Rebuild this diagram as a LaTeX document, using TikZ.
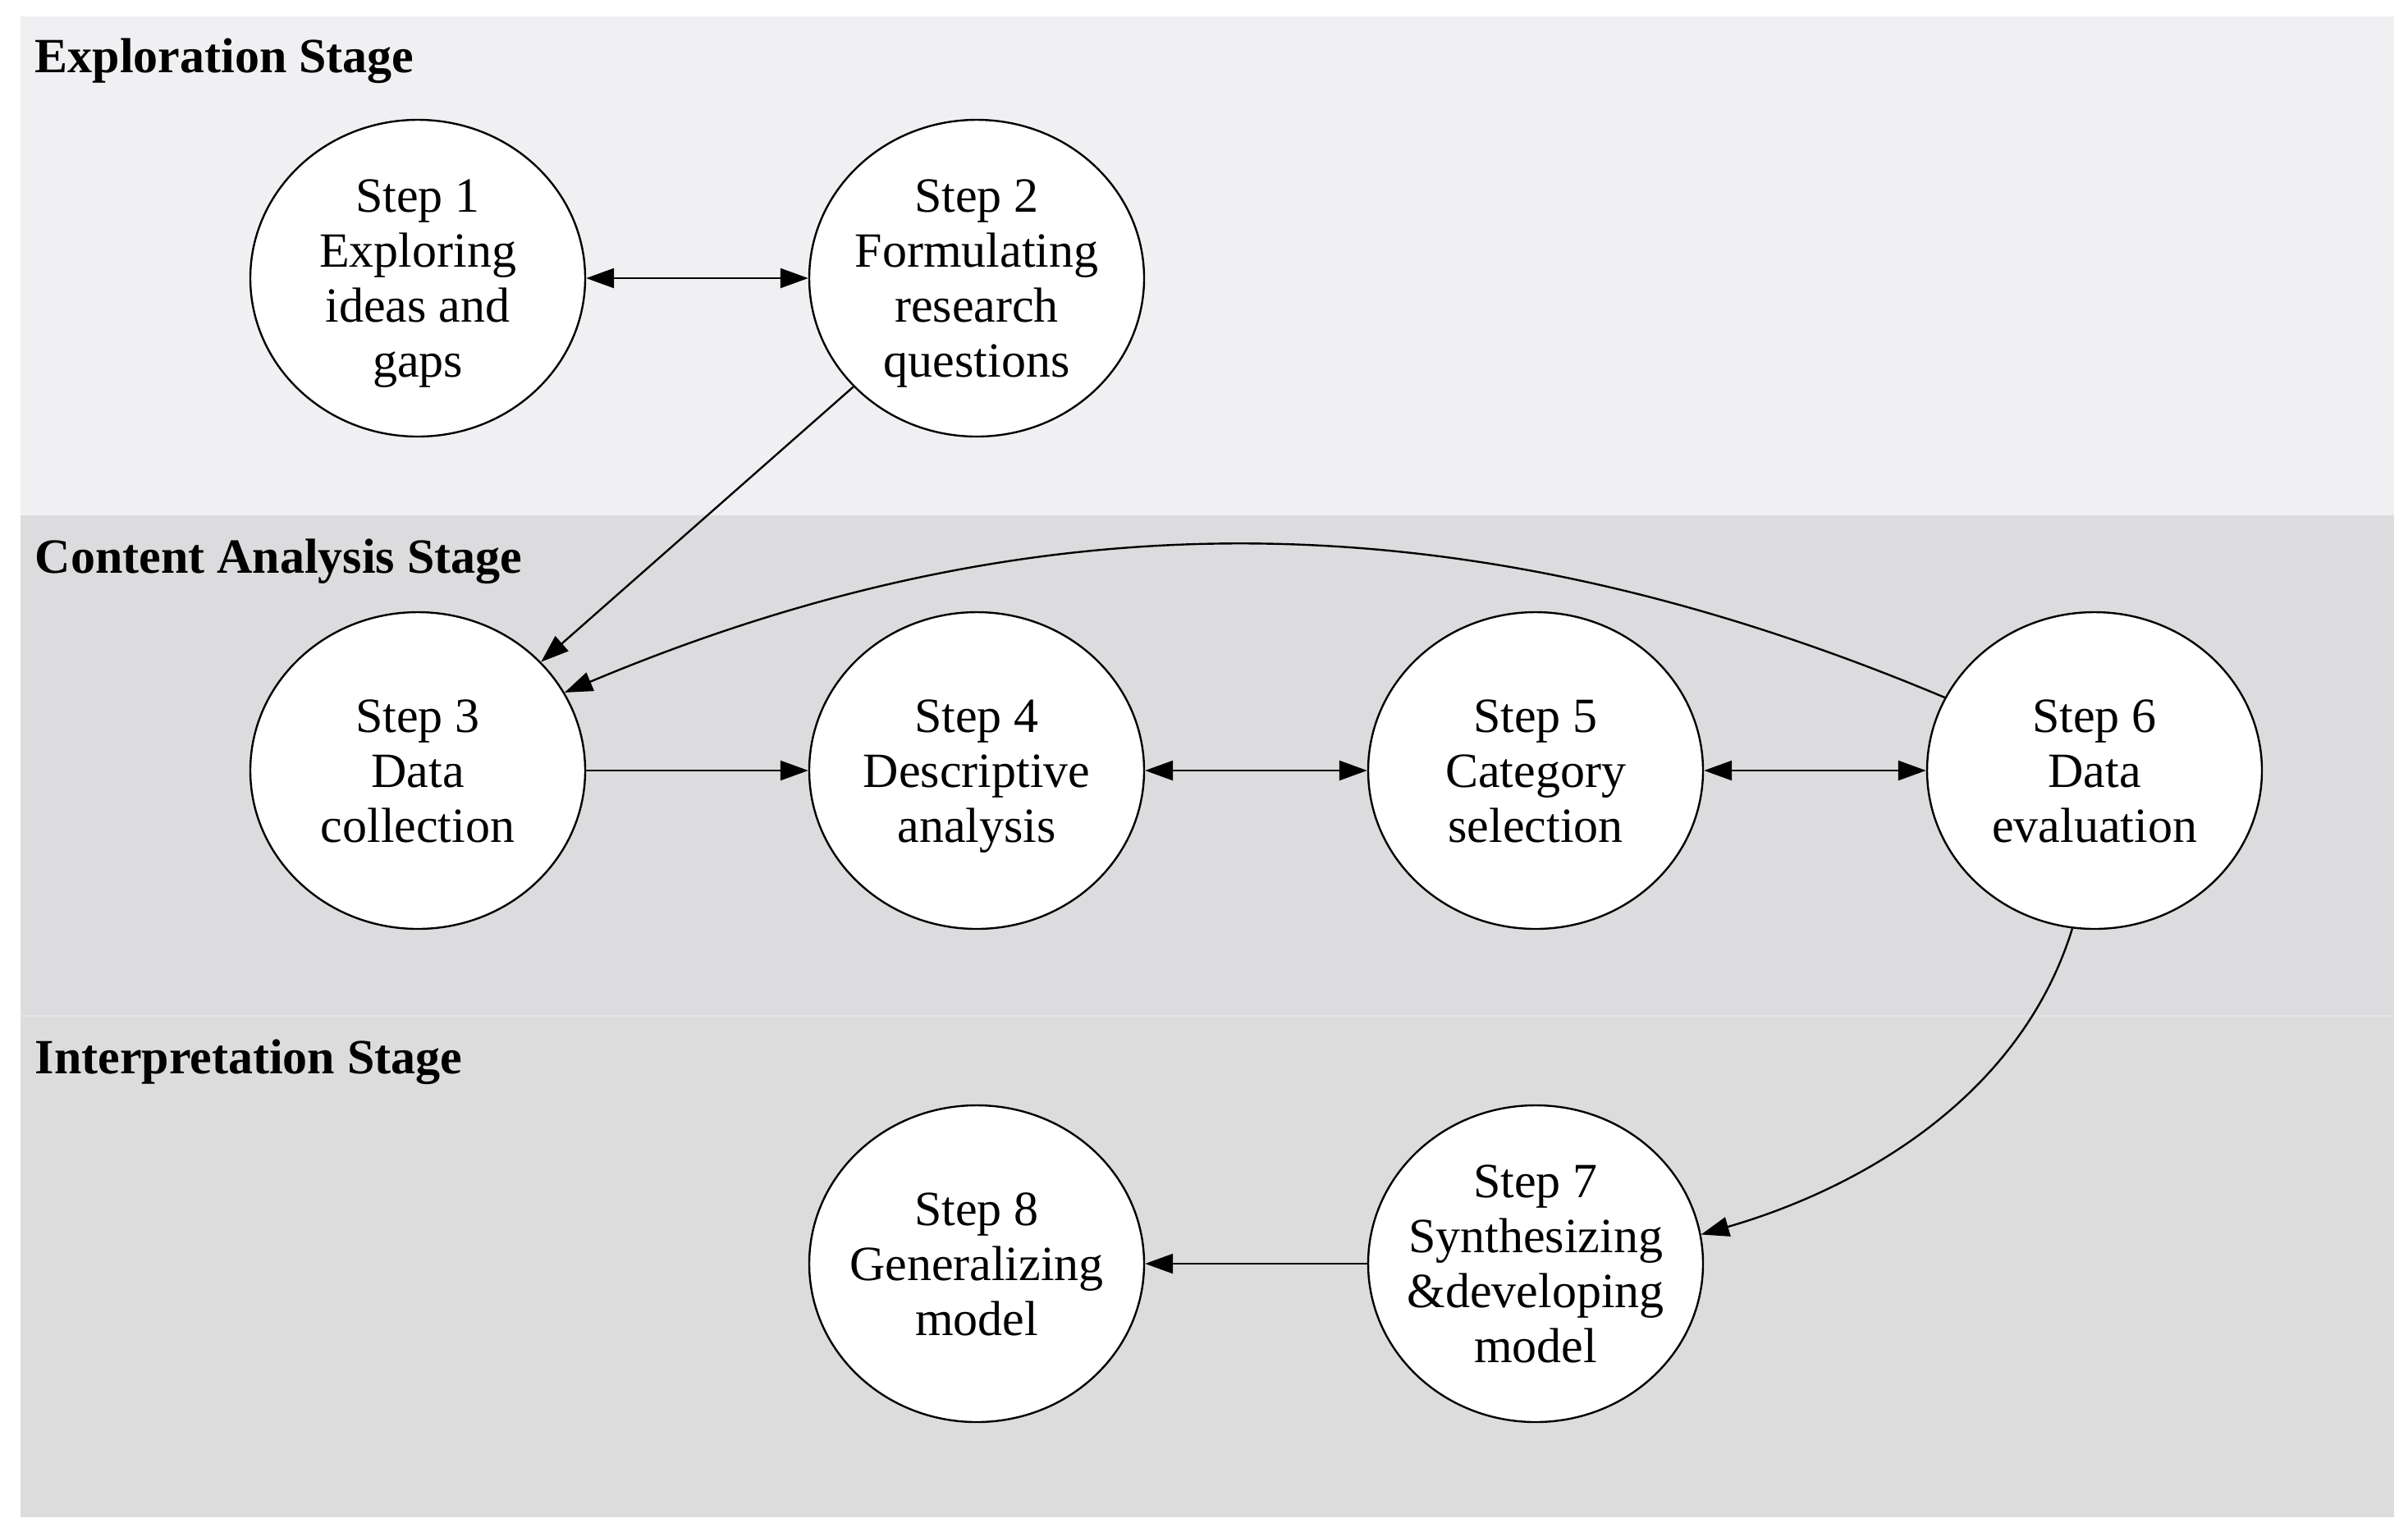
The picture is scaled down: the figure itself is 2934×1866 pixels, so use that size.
\documentclass[tikz,border=0pt]{standalone}
\usepackage{fontspec}
\setmainfont{Liberation Serif}
\usetikzlibrary{arrows.meta,shapes.geometric}
\definecolor{explfill}{RGB}{240,239,242}
\definecolor{contfill}{RGB}{220,220,222}
\definecolor{intpfill}{RGB}{220,220,220}
\definecolor{sepline}{RGB}{228,228,230}
\newcommand{\lnstrut}{\rule[-3.3pt]{0pt}{16.6pt}}
\begin{document}
\begin{tikzpicture}[x=0.25pt,y=-0.25pt,
  stepnode/.style={ellipse, draw=black, fill=white, line width=0.6pt,
    minimum width=102pt, minimum height=96.5pt, inner sep=0pt},
  steptext/.style={inner sep=0pt, align=center,
    font=\fontsize{15}{16.75}\selectfont},
  stagetitle/.style={anchor=base west, inner sep=0pt,
    font=\bfseries\fontsize{15}{18}\selectfont},
  tipstyle/.style={},
  conn/.style={line width=0.6pt, -{Triangle[length=8.5pt,width=6pt]}},
  bothconn/.style={line width=0.6pt, {Triangle[length=8.5pt,width=6pt]}-{Triangle[length=8.5pt,width=6pt]}}
]
\useasboundingbox (0,0) rectangle (2934,1866);
\fill[white] (0,0) rectangle (2934,1866);
% stage panels
\fill[explfill] (24.5,20) rectangle (2917,628);
\fill[contfill] (24.5,628) rectangle (2917,1238);
\fill[intpfill] (24.5,1238) rectangle (2917,1849);
\draw[sepline, line width=0.5pt] (24.5,1238) -- (2917,1238);
% titles
\node[stagetitle] (t1) at (42,88) {Exploration Stage};
\node[stagetitle] (t2) at (42,698) {Content Analysis Stage};
\node[stagetitle] (t3) at (42,1308) {Interpretation Stage};
% nodes
\node[stepnode] (s1) at (509,339) {};
\node[stepnode] (s2) at (1190,339) {};
\node[stepnode] (s3) at (509,939) {};
\node[stepnode] (s4) at (1190,939) {};
\node[stepnode] (s5) at (1871,939) {};
\node[stepnode] (s6) at (2552,939) {};
\node[stepnode] (s7) at (1871,1540) {};
\node[stepnode] (s8) at (1190,1540) {};
\node[steptext] (s1t) at (s1) {\lnstrut Step 1\\\lnstrut Exploring\\\lnstrut ideas and\\\lnstrut gaps};
\node[steptext] (s2t) at (s2) {\lnstrut Step 2\\\lnstrut Formulating\\\lnstrut research\\\lnstrut questions};
\node[steptext] (s3t) at (s3) {\lnstrut Step 3\\\lnstrut Data\\\lnstrut collection};
\node[steptext] (s4t) at (s4) {\lnstrut Step 4\\\lnstrut Descriptive\\\lnstrut analysis};
\node[steptext] (s5t) at (s5) {\lnstrut Step 5\\\lnstrut Category\\\lnstrut selection};
\node[steptext] (s6t) at (s6) {\lnstrut Step 6\\\lnstrut Data\\\lnstrut evaluation};
\node[steptext] (s7t) at (s7) {\lnstrut Step 7\\\lnstrut Synthesizing\\\lnstrut \&developing\\\lnstrut model};
\node[steptext] (s8t) at (s8) {\lnstrut Step 8\\\lnstrut Generalizing\\\lnstrut model};
% connectors
\draw[bothconn] (s1) -- (s2);
\draw[conn] (s2) -- (s3);
\draw[conn] (s3) -- (s4);
\draw[bothconn] (s4) -- (s5);
\draw[bothconn] (s5) -- (s6);
\draw[conn] (s6.154) .. controls (1789,606) and (1269,600) .. (s3.28);
\draw[conn] (s6.-98) .. controls (2462,1336) and (2268,1448) .. (s7.10);
\draw[conn] (s7) -- (s8);
\end{tikzpicture}
\end{document}
